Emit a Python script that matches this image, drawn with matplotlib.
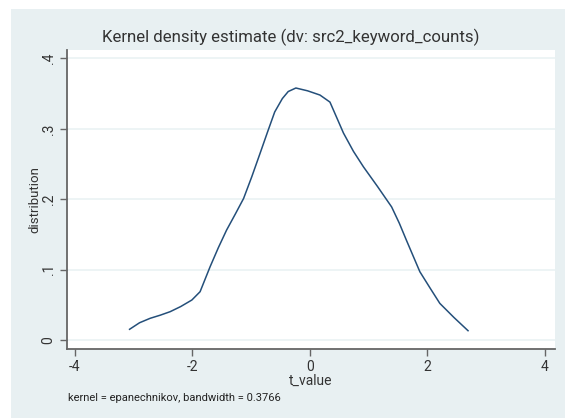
import matplotlib
matplotlib.use("Agg")
import matplotlib.pyplot as plt
from matplotlib.patches import Rectangle

# Kernel density estimate of t values
t_value = [-3.07, -2.90, -2.72, -2.55, -2.38, -2.20, -2.01, -1.87, -1.70, -1.56,
           -1.42, -1.27, -1.13, -0.99, -0.85, -0.72, -0.60, -0.47, -0.37, -0.24,
           -0.04, 0.17, 0.34, 0.45, 0.57, 0.74, 0.91, 1.15, 1.39, 1.52, 1.64,
           1.87, 2.05, 2.21, 2.45, 2.69]
density = [0.0152, 0.0245, 0.0308, 0.0352, 0.0402, 0.0475, 0.0568, 0.0686, 0.104, 0.131,
           0.156, 0.179, 0.201, 0.232, 0.265, 0.296, 0.324, 0.343, 0.353, 0.358,
           0.354, 0.348, 0.338, 0.317, 0.294, 0.268, 0.246, 0.218, 0.189, 0.166, 0.142,
           0.097, 0.073, 0.052, 0.032, 0.0132]

x_ticks = [-4, -2, 0, 2, 4]
y_ticks = [0, 0.1, 0.2, 0.3, 0.4]
y_tick_labels = ["0", ".1", ".2", ".3", ".4"]

title = "Kernel density estimate (dv: src2_keyword_counts)"
note = "kernel = epanechnikov, bandwidth = 0.3766"

plt.rcParams["font.family"] = ["Roboto", "DejaVu Sans"]

W, H = 565, 418
fig = plt.figure(figsize=(W / 100, H / 100), dpi=100)
fig.patch.set_facecolor("white")

region = "#e8f0f2"
fig.patches.append(Rectangle((11 / W, 0), 1 - 11 / W, (H - 9) / H,
                             transform=fig.transFigure, facecolor=region,
                             edgecolor="none", zorder=-10))

left, right, top, bottom = 66.7, 555, 50, 349
ax = fig.add_axes([left / W, 1 - bottom / H, (right - left) / W, (bottom - top) / H])
ax.set_zorder(1)
ax.set_facecolor("white")

ax.plot(t_value, density, color="#244f7a", linewidth=1.1, zorder=3)

ax.set_xlim(-4.14, 4.17)
ax.set_ylim(-0.0128, 0.412)
ax.set_xticks(x_ticks)
ax.set_xticklabels([str(v) for v in x_ticks])
ax.set_yticks(y_ticks)
ax.set_yticklabels(y_tick_labels, rotation=90, va="center")

ax.grid(axis="y", color="#eaf2f3", linewidth=1.2, zorder=1)
ax.grid(axis="x", visible=False)

for s in ["top", "right"]:
    ax.spines[s].set_visible(False)
for s in ["left", "bottom"]:
    ax.spines[s].set_color("#666666")
    ax.spines[s].set_linewidth(1.3)

ax.tick_params(axis="both", direction="out", length=5, width=1, color="#666666",
               labelsize=10, labelcolor="#333333", pad=3)

ax.set_xlabel("t_value", fontsize=10, color="#333333", labelpad=0)
ax.set_ylabel("distribution", fontsize=9.5, color="#333333", labelpad=0)

fig.text(291 / W, 1 - 37 / H, title, ha="center", va="center",
         fontsize=12.1, color="#333333")
fig.text(68 / W, 1 - 398 / H, note, ha="left", va="center",
         fontsize=8, color="#222222")

fig.savefig("out.png", dpi=100, facecolor=fig.get_facecolor())
